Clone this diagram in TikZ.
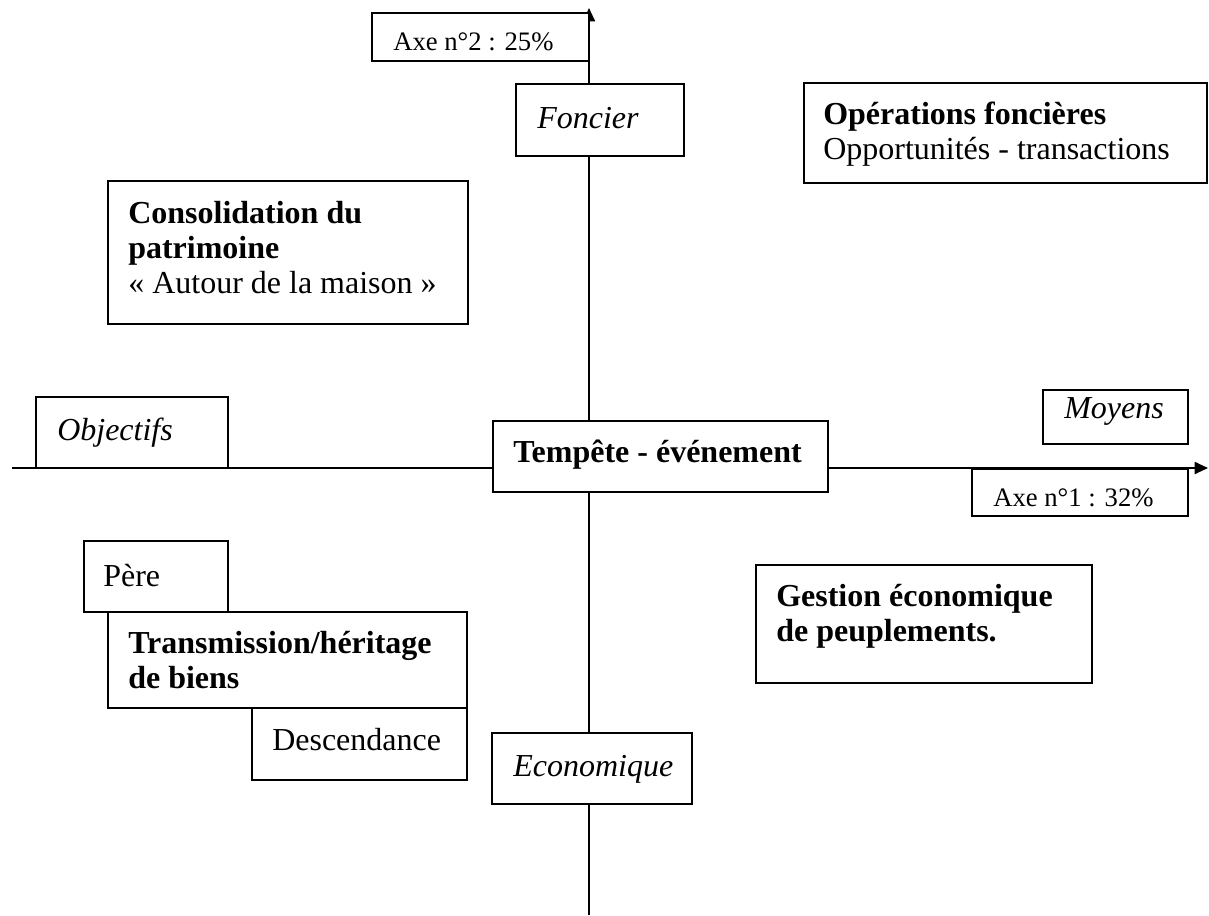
\documentclass[tikz,border=0pt]{standalone}
\usepackage{fontspec}
\setmainfont{Liberation Serif}
\usetikzlibrary{fit,arrows.meta}
\begin{document}
\begin{tikzpicture}[x=0.75pt,y=-0.75pt,
  box/.style={draw, fill=white, line width=1.4pt, inner sep=0pt},
  axis/.style={line width=1.4pt, -{Triangle[length=10pt,width=9pt]}},
  big/.style={font=\fontsize{24}{26}\selectfont, anchor=base west, inner sep=0pt, align=left},
  bigit/.style={big, font=\fontsize{24}{26}\selectfont\itshape},
  bigbf/.style={big, font=\fontsize{24}{26}\selectfont\bfseries},
  small/.style={font=\fontsize{20}{22}\selectfont, anchor=base west, inner sep=0pt}]
\useasboundingbox (0,0) rectangle (1209,915);

% the two axes
\coordinate (xleft) at (12,468);
\coordinate (xright) at (1208,468);
\coordinate (ybottom) at (589,915);
\coordinate (ytop) at (589,8);
\draw[axis] (xleft) -- (xright);
\draw[axis] (ybottom) -- (ytop);

% boxes
\node[box, fit={(372,13) (589,61)}] (axe2) {};
\node[box, fit={(516,84) (684,156)}] (foncier) {};
\node[box, fit={(804,83) (1207,183)}] (operations) {};
\node[box, fit={(108,181) (468,324)}] (consolidation) {};
\node[box, fit={(36,397) (228,468)}] (objectifs) {};
\node[box, fit={(1043,390) (1188,444)}] (moyens) {};
\node[box, fit={(493,421) (828,492)}] (tempete) {};
\node[box, fit={(972,469) (1188,516)}] (axe1) {};
\node[box, fit={(84,541) (228,612)}] (pere) {};
\node[box, fit={(108,612) (467,708)}] (transmission) {};
\node[box, fit={(252,708) (467,780)}] (descendance) {};
\node[box, fit={(756,565) (1092,683)}] (gestion) {};
\node[box, fit={(492,733) (692,804)}] (economique) {};

% texts (multi-line nodes sit on the baseline of their last line)
\node[small] (taxe2) at (393,50) {Axe n°2 : 25\%};
\node[bigit] (tfoncier) at (537,128) {Foncier};
\node[big] (toperations) at (823,159) {\textbf{Opérations foncières}\\Opportunités - transactions};
\node[big] (tconsolidation) at (128,293) {\textbf{Consolidation du}\\\textbf{patrimoine}\\« Autour de la maison »};
\node[bigit] (tobjectifs) at (57,440) {Objectifs};
\node[bigit] (tmoyens) at (1064,418) {Moyens};
\node[bigbf] (ttempete) at (513,462) {Tempête - événement};
\node[small] (taxe1) at (993,506) {Axe n°1 : 32\%};
\node[big] (tpere) at (103,586) {Père};
\node[bigbf] (ttransmission) at (128,688) {Transmission/héritage\\de biens};
\node[big] (tdescendance) at (272,750) {Descendance};
\node[bigbf] (tgestion) at (776,641) {Gestion économique\\de peuplements.};
\node[bigit] (teconomique) at (513,776) {Economique};
\end{tikzpicture}
\end{document}
